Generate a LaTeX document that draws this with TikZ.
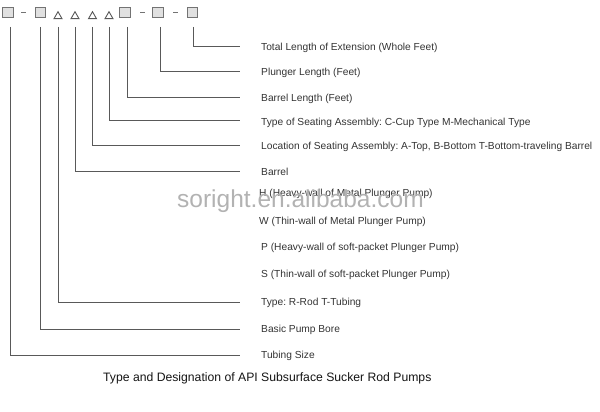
\documentclass[tikz,border=0pt]{standalone}
\usepackage{fontspec}
\setmainfont{Liberation Sans}
\frenchspacing
\begin{document}
\begin{tikzpicture}[x=1pt,y=-1pt,
  sq/.style={draw=black!55,fill=black!12,line width=0.8pt,minimum size=10.5pt,inner sep=0pt},
  tri/.style={draw=black!65,line width=0.9pt},
  lead/.style={draw=black!65,line width=1pt},
  lbl/.style={anchor=base west,inner sep=0pt,font=\fontsize{10.2}{12}\selectfont,text=black!80},
  sep/.style={draw=black!55,line width=0.8pt}]
\useasboundingbox (0,0) rectangle (600,412);
% code symbols
\node[sq] (b1) at (8,12.5) {};
\node[sq] (b2) at (40.5,12.5) {};
\node[sq] (b3) at (125,12.5) {};
\node[sq] (b4) at (158,12.5) {};
\node[sq] (b5) at (192.5,12.5) {};
\coordinate (t1) at (58,15.5);
\coordinate (t2) at (75,15.5);
\coordinate (t3) at (92.5,15.5);
\coordinate (t4) at (109,15.5);
\foreach \t in {t1,t2,t3,t4}{
  \draw[tri] ([shift={(-4,3.2)}]\t) -- ([shift={(0,-3.8)}]\t) -- ([shift={(4,3.2)}]\t) -- cycle;
}
\draw[sep] (21,12.7) -- (25.5,12.7);
\draw[sep] (140,12.7) -- (144.5,12.7);
\draw[sep] (173,12.7) -- (177.5,12.7);
% labels
\node[lbl] (L1) at (261,50.5) {Total Length of Extension (Whole Feet)};
\node[lbl] (L2) at (261,76) {Plunger Length (Feet)};
\node[lbl] (L3) at (261,102) {Barrel Length (Feet)};
\node[lbl] (L4) at (261,125) {Type of Seating Assembly: C-Cup Type M-Mechanical Type};
\node[lbl] (L5) at (261,149.5) {Location of Seating Assembly: A-Top, B-Bottom T-Bottom-traveling Barrel};
\node[lbl] (L6) at (261,175) {Barrel};
\node[lbl] (L7) at (259,196.5) {H (Heavy-wall of Metal Plunger Pump)};
\node[lbl] (L8) at (259,224) {W (Thin-wall of Metal Plunger Pump)};
\node[lbl] (L9) at (261,250.5) {P (Heavy-wall of soft-packet Plunger Pump)};
\node[lbl] (L10) at (261,277.5) {S (Thin-wall of soft-packet Plunger Pump)};
\node[lbl] (L11) at (261,305.5) {Type: R-Rod T-Tubing};
\node[lbl] (L12) at (261,332) {Basic Pump Bore};
\node[lbl] (L13) at (261,358.3) {Tubing Size};
% leader end points
\coordinate (e1) at (240,46.5);
\coordinate (e2) at (240,72);
\coordinate (e3) at (240,97.5);
\coordinate (e4) at (240,120);
\coordinate (e5) at (240,145.5);
\coordinate (e6) at (240,171);
\coordinate (e11) at (240,302);
\coordinate (e12) at (240,329);
\coordinate (e13) at (240,355);
% leaders
\draw[lead] (193.5,27) |- (e1);
\draw[lead] (160,27) |- (e2);
\draw[lead] (127,27) |- (e3);
\draw[lead] (t4 |- 0,27) |- (e4);
\draw[lead] (t3 |- 0,27) |- (e5);
\draw[lead] (t2 |- 0,27) |- (e6);
\draw[lead] (t1 |- 0,27) |- (e11);
\draw[lead] (40,27) |- (e12);
\draw[lead] (10,27) |- (e13);
% watermark
\node[anchor=base west,inner sep=0pt,text=black!30,font=\fontsize{24.5}{26}\selectfont] (wm) at (177,207) {soright.en.alibaba.com};
% caption
\node[anchor=base west,inner sep=0pt,text=black!92,font=\fontsize{12.2}{14}\selectfont] (cap) at (103,381) {Type and Designation of API Subsurface Sucker Rod Pumps};
\end{tikzpicture}
\end{document}
